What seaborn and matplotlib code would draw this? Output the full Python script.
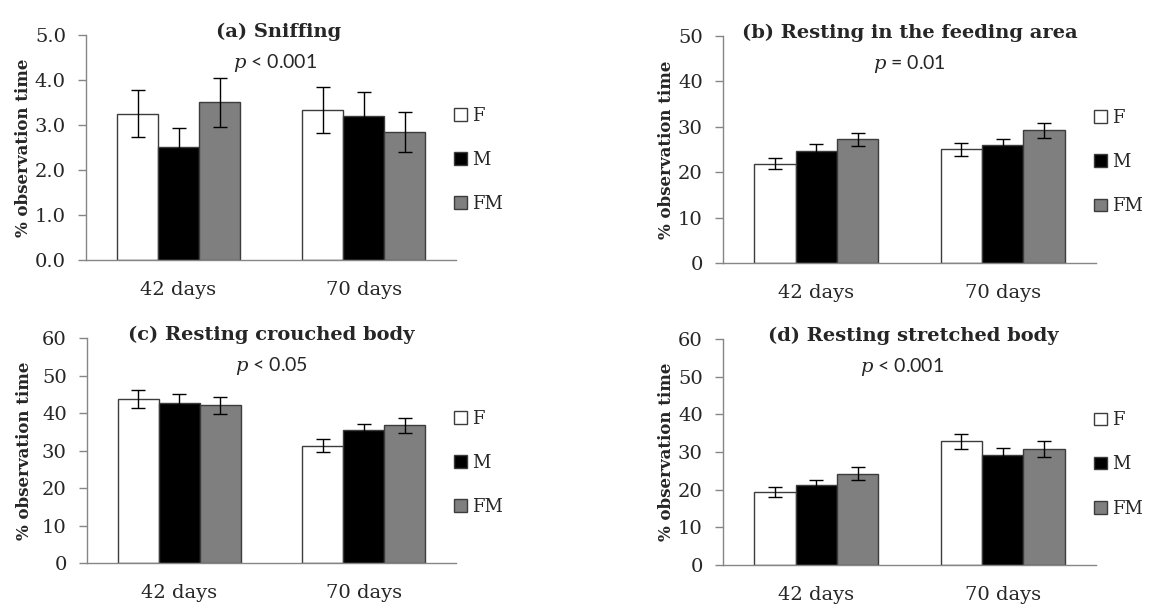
import pandas as pd
import numpy as np
import matplotlib
matplotlib.use("Agg")
import matplotlib.pyplot as plt
import seaborn as sns

ages = ["42 days", "70 days"]
groups = ["F", "M", "FM"]

titles = ["(a) Sniffing", "(b) Resting in the feeding area",
          "(c) Resting crouched body", "(d) Resting stretched body"]
pvals = ["< 0.001", "= 0.01", "< 0.05", "< 0.001"]

# means, ordered F, M, FM for 42 days then 70 days
sniff_mean = [3.25, 2.50, 3.50, 3.33, 3.21, 2.84]
sniff_err = [0.52, 0.43, 0.54, 0.51, 0.52, 0.45]
feed_mean = [21.9, 24.7, 27.2, 25.0, 25.9, 29.2]
feed_err = [1.2, 1.4, 1.5, 1.4, 1.4, 1.7]
crouch_mean = [43.7, 42.8, 42.1, 31.3, 35.5, 36.8]
crouch_err = [2.4, 2.2, 2.3, 1.7, 1.7, 2.0]
stretch_mean = [19.4, 21.2, 24.2, 32.9, 29.1, 30.7]
stretch_err = [1.3, 1.3, 1.7, 2.0, 2.0, 2.1]

y_limits = [(0, 5), (0, 50), (0, 60), (0, 60)]
y_steps = [1.0, 10, 10, 10]

palette = {"F": "white", "M": "black", "FM": "#7f7f7f"}

sns.set_style("white")
plt.rcParams["font.family"] = ["DejaVu Serif"]
plt.rcParams["mathtext.fontset"] = "custom"
plt.rcParams["mathtext.it"] = "DejaVu Serif:italic"

fig = plt.figure(figsize=(11.52, 6.10), dpi=100)
positions = [
    [0.0747, 0.5738, 0.3212, 0.3689],
    [0.6276, 0.5689, 0.3238, 0.3721],
    [0.0755, 0.0770, 0.3203, 0.3689],
    [0.6276, 0.0738, 0.3238, 0.3705],
]
title_x = [0.52, 0.50, 0.50, 0.51]
p_x = [0.51, 0.50, 0.50, 0.48]
ylab_x = [-0.147, -0.129, -0.147, -0.129]

panels = [(sniff_mean, sniff_err), (feed_mean, feed_err),
          (crouch_mean, crouch_err), (stretch_mean, stretch_err)]

for i, (means, errs) in enumerate(panels):
    ax = fig.add_axes(positions[i])
    df = pd.DataFrame({
        "age": np.repeat(ages, len(groups)),
        "group": groups * len(ages),
        "value": means,
        "err": errs,
    })
    sns.barplot(data=df, x="age", y="value", hue="group", hue_order=groups,
                order=ages, palette=palette, edgecolor="#3c3c3c", linewidth=1,
                width=0.665, errorbar=None, ax=ax)

    # error bars on each bar
    for g, cont in zip(groups, ax.containers):
        sub = df[df["group"] == g].set_index("age").loc[ages]
        xs = [b.get_x() + b.get_width() / 2 for b in cont]
        ax.errorbar(xs, sub["value"], yerr=sub["err"], fmt="none",
                    ecolor="black", elinewidth=1, capsize=4.7, capthick=1)

    lo, hi = y_limits[i]
    ax.set_ylim(lo, hi)
    ax.set_yticks(np.arange(lo, hi + y_steps[i] / 2, y_steps[i]))
    if i == 0:
        ax.set_yticklabels([f"{v:.1f}" for v in ax.get_yticks()])
    ax.set_xlim(-0.5, 1.5)
    ax.set_xticks([0, 1])
    ax.set_xticklabels(ages)
    ax.set_xticks([-0.5, 0.5, 1.5], minor=True)
    ax.tick_params(axis="x", which="major", length=0, pad=15, labelsize=14,
                   labelcolor="#262626")
    ax.tick_params(axis="x", which="minor", length=6, width=1, color="#868686",
                   direction="out")
    ax.tick_params(axis="y", length=5.5, width=1, color="#868686", direction="out",
                   labelsize=14, labelcolor="#262626", pad=9, left=True)
    for s in ["top", "right"]:
        ax.spines[s].set_visible(False)
    for s in ["left", "bottom"]:
        ax.spines[s].set_color("#868686")
        ax.spines[s].set_linewidth(1)

    ax.set_xlabel("")
    ax.set_ylabel("% observation time", fontsize=12, fontweight="bold")
    ax.yaxis.set_label_coords(ylab_x[i], 0.5)
    ax.text(title_x[i], 1.013, titles[i], transform=ax.transAxes, ha="center",
            va="center", fontsize=14, fontweight="bold")
    ax.text(p_x[i], 0.876, r"$p$ " + pvals[i], transform=ax.transAxes,
            ha="center", va="center", fontsize=14, family=["Lato", "DejaVu Sans"],
            color="#262626")

    handles, labels = ax.get_legend_handles_labels()
    ax.legend(handles, labels, loc="center left", bbox_to_anchor=(0.975, 0.445),
              frameon=False, fontsize=13, handlelength=0.7, handleheight=0.7,
              handletextpad=0.3, labelspacing=1.45, borderaxespad=0)

plt.savefig("out.png", dpi=100)
